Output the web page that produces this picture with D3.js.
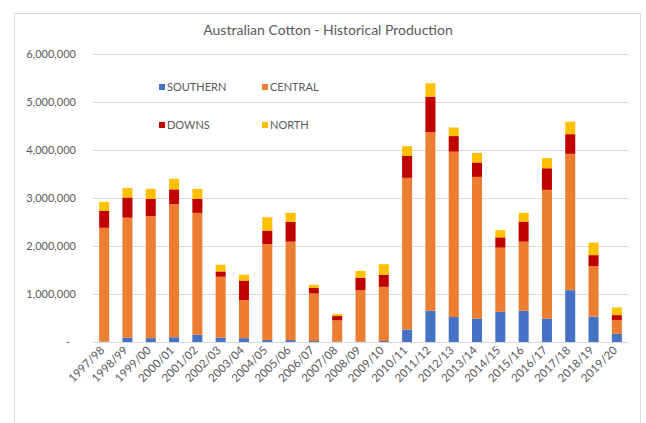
<!DOCTYPE html>
<html>
<head>
    <title>Australian Cotton</title>
    <script src="https://cdn.jsdelivr.net/npm/d3@7"></script>
    <style>
        body { margin: 0; background: #fff; }
        #drawingPlace text { font-family: Lato, "Open Sans", sans-serif; fill: #595959; }
    </style>
</head>
<body>
<svg id="drawingPlace" width="646" height="423"></svg>
<script>
    // seasons on the x axis
    var seasons = ["1997/98","1998/99","1999/00","2000/01","2001/02","2002/03","2003/04",
        "2004/05","2005/06","2006/07","2007/08","2008/09","2009/10","2010/11","2011/12",
        "2012/13","2013/14","2014/15","2015/16","2016/17","2017/18","2018/19","2019/20"];

    // production by region (bales)
    var southern = [10000, 90000, 80000, 100000, 150000, 90000, 80000, 40000, 40000, 20000, 10000,
        10000, 20000, 260000, 650000, 520000, 490000, 630000, 650000, 490000, 1080000, 530000, 170000];
    var central = [2370000, 2500000, 2540000, 2770000, 2540000, 1270000, 795000, 2000000, 2050000,
        990000, 440000, 1070000, 1130000, 3160000, 3725000, 3445000, 2950000, 1335000, 1440000,
        2680000, 2840000, 1050000, 290000];
    var downs = [350000, 420000, 360000, 310000, 290000, 110000, 405000, 280000, 410000, 120000,
        90000, 260000, 250000, 455000, 735000, 325000, 300000, 215000, 420000, 450000, 410000,
        230000, 100000];
    var north = [190000, 200000, 210000, 220000, 210000, 140000, 120000, 280000, 190000, 60000,
        40000, 140000, 220000, 205000, 280000, 180000, 200000, 150000, 180000, 210000, 260000,
        260000, 160000];

    var yTicks = [0, 1000000, 2000000, 3000000, 4000000, 5000000, 6000000];
    var keys = ["SOUTHERN", "CENTRAL", "DOWNS", "NORTH"];
    var colors = ["#4472C4", "#ED7D31", "#C00000", "#FFC000"];

    var svg = d3.select("#drawingPlace");

    // chart frame
    svg.append("rect")
        .attr("x", 14.5).attr("y", 13.5)
        .attr("width", 626).attr("height", 420)
        .attr("fill", "none")
        .attr("stroke", "#d9d9d9");

    // plot area edges
    var plotL = 92.5, plotR = 628.5, plotT = 54, plotB = 342;

    var x = d3.scaleBand()
        .domain(seasons)
        .range([plotL, plotR])
        .paddingInner(0.57)
        .paddingOuter(0.285);
    var y = d3.scaleLinear()
        .domain([0, 6000000])
        .range([plotB, plotT]);

    // gridlines
    svg.append("g")
        .selectAll("line")
        .data(yTicks.slice(1))
        .enter()
        .append("line")
        .attr("x1", plotL).attr("x2", plotR)
        .attr("y1", d => Math.round(y(d)) + 0.5)
        .attr("y2", d => Math.round(y(d)) + 0.5)
        .attr("stroke", "#d9d9d9");

    // y labels
    svg.append("g")
        .selectAll("text")
        .data(yTicks)
        .enter()
        .append("text")
        .attr("x", d => d === 0 ? 70 : 76)
        .attr("y", d => y(d) + 4)
        .attr("text-anchor", "end")
        .style("font-size", "11px")
        .text(d => d === 0 ? "-" : d3.format(",")(d));

    // stacked bars
    var table = seasons.map(function (s, i) {
        return { season: s, SOUTHERN: southern[i], CENTRAL: central[i], DOWNS: downs[i], NORTH: north[i] };
    });
    var stack = d3.stack().keys(keys)(table);

    svg.append("g")
        .selectAll("g")
        .data(stack)
        .enter()
        .append("g")
        .attr("fill", (d, i) => colors[i])
        .selectAll("rect")
        .data(d => d)
        .enter()
        .append("rect")
        .attr("x", d => x(d.data.season))
        .attr("width", x.bandwidth())
        .attr("y", d => y(d[1]))
        .attr("height", d => y(d[0]) - y(d[1]));

    // x axis line
    svg.append("line")
        .attr("x1", plotL).attr("x2", plotR)
        .attr("y1", plotB + 0.5).attr("y2", plotB + 0.5)
        .attr("stroke", "#d9d9d9");

    // x labels
    svg.append("g")
        .selectAll("text")
        .data(seasons)
        .enter()
        .append("text")
        .attr("text-anchor", "end")
        .style("font-size", "11.5px")
        .attr("transform", d => "translate(" + (x(d) + x.bandwidth() / 2 + 1) + "," + (plotB + 9) + ") rotate(-45)")
        .text(d => d);

    // title
    svg.append("text")
        .attr("x", 328)
        .attr("y", 35)
        .attr("text-anchor", "middle")
        .style("font-size", "14px")
        .text("Australian Cotton - Historical Production");

    // legend
    var legendPos = [[162, 87], [265, 87], [162, 125], [265, 125]];
    var legend = svg.append("g")
        .selectAll("g")
        .data(keys)
        .enter()
        .append("g")
        .attr("transform", (d, i) => "translate(" + legendPos[i][0] + "," + legendPos[i][1] + ")");
    legend.append("rect")
        .attr("x", -3).attr("y", -3)
        .attr("width", 6).attr("height", 6)
        .attr("fill", (d, i) => colors[i]);
    legend.append("text")
        .attr("x", 5)
        .attr("y", 4)
        .style("font-size", "11px")
        .text(d => d);
</script>
</body>
</html>
